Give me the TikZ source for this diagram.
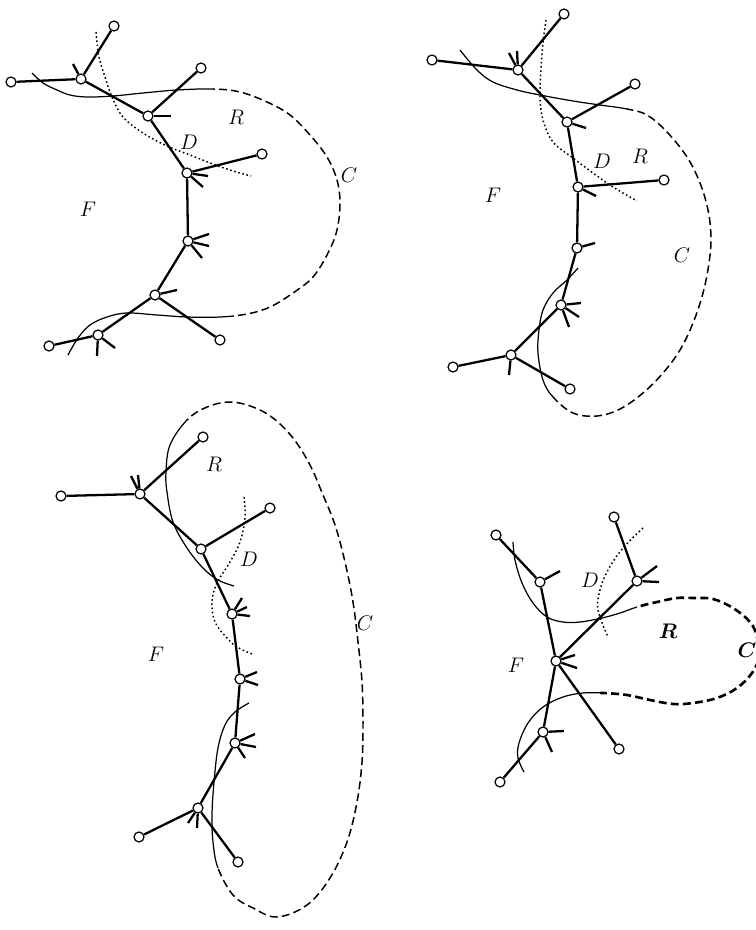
\documentclass[tikz,border=0pt]{standalone}
\usepackage{amsmath}
\usepackage{amssymb}
\usepackage{tikz}
\newcommand{\bdrya}{plot[smooth, tension=0.6] coordinates {(32,73) (43,83) (57,90) (70,95) (87,97) (113,96) (143,93) (177,90) (213,89) (240,92) (267,102) (290,115) (310,135) (327,157) (337,180) (340,203) (337,230) (328,253) (313,277) (293,293) (270,307) (247,314) (220,317) (187,317) (157,315) (127,313) (107,317) (90,325) (78,338) (68,355)}}
\newcommand{\bdryb}{plot[smooth, tension=0.6] coordinates {(460,50) (477,70) (493,82) (517,90) (540,95) (573,101) (600,105) (627,109) (647,115) (667,132) (687,157) (700,183) (708,210) (711,237) (709,263) (703,293) (693,323) (680,350) (663,373) (643,393) (620,409) (597,416) (573,413) (553,397) (543,380) (538,353) (539,330) (543,310) (553,293) (567,280) (578,268)}}
\newcommand{\bdryc}{plot[smooth, tension=0.6] coordinates {(234,586) (218,580) (203,568) (187,548) (173,522) (167,492) (166,472) (170,445) (187,420) (207,407) (230,402) (253,407) (273,418) (293,438) (310,465) (323,495) (335,525) (345,562) (353,602) (358,642) (362,682) (363,722) (362,762) (357,802) (347,842) (330,878) (307,905) (277,917) (253,908) (233,895) (218,868) (213,842) (212,815) (214,782) (218,748) (225,725) (235,712) (249,703)}}
\newcommand{\bdryd}{plot[smooth, tension=0.6] coordinates {(513,542) (515,560) (522,583) (533,603) (547,617) (563,622) (580,622) (602,618) (620,613) (637,607) (657,602) (677,598) (693,598) (713,599) (733,608) (750,622) (757,637) (759,657) (752,673) (737,688) (717,698) (693,703) (673,704) (650,700) (627,695) (603,693) (583,693) (563,697) (543,707) (528,723) (519,743) (518,758) (524,772)}}
\begin{document}
\begin{tikzpicture}[
          x=0.02cm,
          y=-0.02cm,
          vertex/.style={
              draw=black,
              fill=white,
              circle,
              line width=0.7pt,
              inner sep=0pt,
              minimum size=0.2cm
            },
          branch/.style={black, line width=1.3pt},
          stub/.style={black, line width=1.3pt},
          bdry/.style={black, line width=0.7pt},
          bdrydash/.style={black, line width=0.85pt, dash pattern=on 4.5pt off 2.4pt},
          cutline/.style={black, line width=0.85pt, dash pattern=on 0.9pt off 1.5pt},
          lab/.style={font=\fontsize{13}{15}\selectfont, inner sep=0pt}
        ]
        \useasboundingbox (0,0) rectangle (756,930);

        \begin{scope}
          \clip (0,0) rectangle (213,250) (0,250) rectangle (233,400);
          \draw[bdry] \bdrya;
        \end{scope}
        \begin{scope}
          \clip (213,0) -- (400,0) -- (400,400) -- (233,400) -- (233,250) -- (213,250) -- cycle;
          \draw[bdrydash] \bdrya;
        \end{scope}
        \draw[cutline] plot[smooth, tension=0.6] coordinates {(96,32) (99,57) (105,77) (112,97) (123,117) (143,133) (167,146) (190,155) (213,164) (233,171) (251,176)};

        \node[vertex] (a1) at (81,79) {};
        \node[vertex] (a2) at (114,26) {};
        \node[vertex] (a3) at (11,82) {};
        \node[vertex] (a4) at (148,116) {};
        \node[vertex] (a5) at (201,68) {};
        \node[vertex] (a6) at (187,173) {};
        \node[vertex] (a7) at (262,154) {};
        \node[vertex] (a8) at (188,241) {};
        \node[vertex] (a9) at (155,295) {};
        \node[vertex] (a10) at (220,340) {};
        \node[vertex] (a11) at (98,335) {};
        \node[vertex] (a12) at (49,346) {};

        \draw[branch] (a1) -- (a2);
        \draw[branch] (a1) -- (a3);
        \draw[branch] (a1) -- (a4);
        \draw[branch] (a4) -- (a5);
        \draw[branch] (a4) -- (a6);
        \draw[branch] (a6) -- (a7);
        \draw[branch] (a6) -- (a8);
        \draw[branch] (a8) -- (a9);
        \draw[branch] (a9) -- (a10);
        \draw[branch] (a9) -- (a11);
        \draw[branch] (a11) -- (a12);

        \coordinate (a1s) at (73,64); \draw[stub] (a1) -- (a1s);
        \coordinate (a4s) at (171,116); \draw[stub] (a4) -- (a4s);
        \coordinate (a6s) at (208,176); \draw[stub] (a6) -- (a6s);
        \coordinate (a6t) at (203,187); \draw[stub] (a6) -- (a6t);
        \coordinate (a8s) at (209,234); \draw[stub] (a8) -- (a8s);
        \coordinate (a8t) at (209,246); \draw[stub] (a8) -- (a8t);
        \coordinate (a8u) at (202,258); \draw[stub] (a8) -- (a8u);
        \coordinate (a9s) at (177,290); \draw[stub] (a9) -- (a9s);
        \coordinate (a11s) at (115,348); \draw[stub] (a11) -- (a11s);
        \coordinate (a11t) at (97,356); \draw[stub] (a11) -- (a11t);

        \node[lab] (aR) at (236,117) {$R$};
        \node[lab] (aD) at (189,142) {$D$};
        \node[lab] (aC) at (349,175) {$C$};
        \node[lab] (aF) at (88,209) {$F$};

        \begin{scope}
          \clip (420,0) rectangle (627,250) (420,250) rectangle (600,340) (420,340) rectangle (553,430);
          \draw[bdry] \bdryb;
        \end{scope}
        \begin{scope}
          \clip (627,0) -- (756,0) -- (756,430) -- (553,430) -- (553,340) -- (600,340) -- (600,250) -- (627,250) -- cycle;
          \draw[bdrydash] \bdryb;
        \end{scope}
        \draw[cutline] plot[smooth, tension=0.6] coordinates {(546,20) (543,43) (541,70) (540,97) (543,120) (553,142) (573,158) (593,173) (613,187) (637,201)};

        \node[vertex] (b1) at (518,70) {};
        \node[vertex] (b2) at (564,14) {};
        \node[vertex] (b3) at (432,60) {};
        \node[vertex] (b4) at (567,122) {};
        \node[vertex] (b5) at (635,84) {};
        \node[vertex] (b6) at (578,187) {};
        \node[vertex] (b7) at (664,180) {};
        \node[vertex] (b8) at (577,248) {};
        \node[vertex] (b9) at (561,305) {};
        \node[vertex] (b10) at (511,355) {};
        \node[vertex] (b11) at (453,367) {};
        \node[vertex] (b12) at (570,389) {};

        \draw[branch] (b1) -- (b2);
        \draw[branch] (b1) -- (b3);
        \draw[branch] (b1) -- (b4);
        \draw[branch] (b4) -- (b5);
        \draw[branch] (b4) -- (b6);
        \draw[branch] (b6) -- (b7);
        \draw[branch] (b6) -- (b8);
        \draw[branch] (b8) -- (b9);
        \draw[branch] (b9) -- (b10);
        \draw[branch] (b10) -- (b11);
        \draw[branch] (b10) -- (b12);

        \coordinate (b1s) at (509,53); \draw[stub] (b1) -- (b1s);
        \coordinate (b1t) at (517,51); \draw[stub] (b1) -- (b1t);
        \coordinate (b4s) at (586,128); \draw[stub] (b4) -- (b4s);
        \coordinate (b6s) at (596,196); \draw[stub] (b6) -- (b6s);
        \coordinate (b8s) at (595,243); \draw[stub] (b8) -- (b8s);
        \coordinate (b9s) at (581,303); \draw[stub] (b9) -- (b9s);
        \coordinate (b9t) at (579,317); \draw[stub] (b9) -- (b9t);
        \coordinate (b9u) at (569,327); \draw[stub] (b9) -- (b9u);
        \coordinate (b10s) at (509,375); \draw[stub] (b10) -- (b10s);

        \node[lab] (bD) at (602,161) {$D$};
        \node[lab] (bR) at (640,156) {$R$};
        \node[lab] (bC) at (682,255) {$C$};
        \node[lab] (bF) at (493,195) {$F$};

        \begin{scope}
          \clip (100,420) rectangle (260,600) (100,695) rectangle (260,868);
          \draw[bdry] \bdryc;
        \end{scope}
        \begin{scope}
          \clip (100,395) -- (380,395) -- (380,930) -- (100,930) -- (100,868) -- (260,868) -- (260,420) -- (100,420) -- cycle;
          \draw[bdrydash] \bdryc;
        \end{scope}
        \draw[cutline] plot[smooth, tension=0.6] coordinates {(244,497) (245,518) (240,542) (230,562) (217,583) (212,602) (215,622) (227,638) (237,647) (252,654)};

        \node[vertex] (c1) at (140,494) {};
        \node[vertex] (c2) at (203,437) {};
        \node[vertex] (c3) at (61,496) {};
        \node[vertex] (c4) at (201,549) {};
        \node[vertex] (c5) at (270,508) {};
        \node[vertex] (c6) at (232,614) {};
        \node[vertex] (c7) at (240,679) {};
        \node[vertex] (c8) at (235,743) {};
        \node[vertex] (c9) at (198,808) {};
        \node[vertex] (c10) at (139,837) {};
        \node[vertex] (c11) at (238,862) {};

        \draw[branch] (c1) -- (c2);
        \draw[branch] (c1) -- (c3);
        \draw[branch] (c1) -- (c4);
        \draw[branch] (c4) -- (c5);
        \draw[branch] (c4) -- (c6);
        \draw[branch] (c6) -- (c7);
        \draw[branch] (c7) -- (c8);
        \draw[branch] (c8) -- (c9);
        \draw[branch] (c9) -- (c10);
        \draw[branch] (c9) -- (c11);

        \coordinate (c1s) at (131,476); \draw[stub] (c1) -- (c1s);
        \coordinate (c1t) at (138,475); \draw[stub] (c1) -- (c1t);
        \coordinate (c6s) at (242,598); \draw[stub] (c6) -- (c6s);
        \coordinate (c6t) at (247,607); \draw[stub] (c6) -- (c6t);
        \coordinate (c6u) at (250,616); \draw[stub] (c6) -- (c6u);
        \coordinate (c7s) at (257,672); \draw[stub] (c7) -- (c7s);
        \coordinate (c7t) at (258,685); \draw[stub] (c7) -- (c7t);
        \coordinate (c8s) at (255,734); \draw[stub] (c8) -- (c8s);
        \coordinate (c8t) at (256,747); \draw[stub] (c8) -- (c8t);
        \coordinate (c8u) at (245,758); \draw[stub] (c8) -- (c8u);
        \coordinate (c9s) at (188,823); \draw[stub] (c9) -- (c9s);
        \coordinate (c9t) at (197,828); \draw[stub] (c9) -- (c9t);

        \node[lab] (cR) at (214,464) {$R$};
        \node[lab] (cD) at (249,559) {$D$};
        \node[lab] (cF) at (156,654) {$F$};
        \node[lab] (cC) at (365,623) {$C$};

        \begin{scope}
          \clip (500,530) rectangle (637,650) (500,650) rectangle (600,790);
          \draw[bdry] \bdryd;
        \end{scope}
        \begin{scope}
          \clip (637,520) -- (756,520) -- (756,790) -- (600,790) -- (600,650) -- (637,650) -- cycle;
          \draw[bdrydash, line width=1.5pt] \bdryd;
        \end{scope}
        \draw[cutline] plot[smooth, tension=0.6] coordinates {(643,528) (623,548) (608,570) (600,590) (598,610) (608,637)};

        \node[vertex] (d1) at (540,582) {};
        \node[vertex] (d2) at (496,535) {};
        \node[vertex] (d3) at (637,581) {};
        \node[vertex] (d4) at (614,517) {};
        \node[vertex] (d5) at (556,661) {};
        \node[vertex] (d6) at (619,749) {};
        \node[vertex] (d7) at (543,732) {};
        \node[vertex] (d8) at (500,782) {};

        \draw[branch] (d1) -- (d2);
        \draw[branch] (d1) -- (d5);
        \draw[branch] (d3) -- (d4);
        \draw[branch] (d3) -- (d5);
        \draw[branch] (d5) -- (d6);
        \draw[branch] (d5) -- (d7);
        \draw[branch] (d7) -- (d8);

        \coordinate (d1s) at (560,571); \draw[stub] (d1) -- (d1s);
        \coordinate (d3s) at (657,566); \draw[stub] (d3) -- (d3s);
        \coordinate (d3t) at (659,582); \draw[stub] (d3) -- (d3t);
        \coordinate (d5s) at (575,655); \draw[stub] (d5) -- (d5s);
        \coordinate (d5t) at (577,668); \draw[stub] (d5) -- (d5t);
        \coordinate (d7s) at (564,731); \draw[stub] (d7) -- (d7s);
        \coordinate (d7t) at (552,752); \draw[stub] (d7) -- (d7t);

        \node[lab] (dD) at (590,580) {$D$};
        \node[lab] (dR) at (668,631) {$\boldsymbol{R}$};
        \node[lab] (dC) at (747,650) {$\boldsymbol{C}$};
        \node[lab] (dF) at (516,665) {$F$};
      \end{tikzpicture}
\end{document}
